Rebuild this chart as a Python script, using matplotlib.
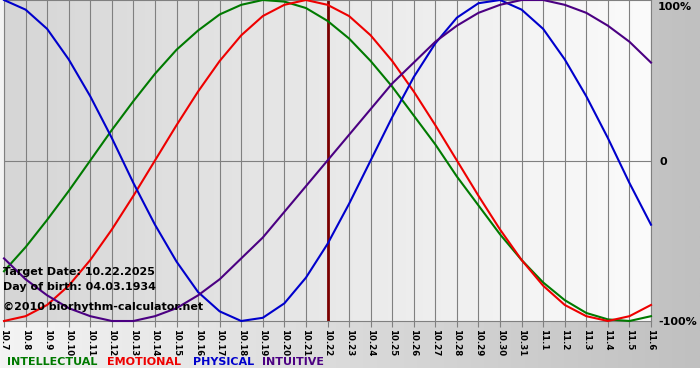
#!/usr/bin/env python3
"""Biorhythm chart, 10.7 - 11.6, target date 10.22.2025."""
import matplotlib

matplotlib.use("Agg")
import matplotlib.pyplot as plt
import numpy as np
from matplotlib.colors import LinearSegmentedColormap

W_PX, H_PX = 700, 380

DAY_LABELS = [
    "10.7", "10.8", "10.9", "10.10", "10.11", "10.12", "10.13", "10.14", "10.15",
    "10.16", "10.17", "10.18", "10.19", "10.20", "10.21", "10.22", "10.23", "10.24",
    "10.25", "10.26", "10.27", "10.28", "10.29", "10.30", "10.31", "11.1", "11.2",
    "11.3", "11.4", "11.5", "11.6",
]
TARGET_LABEL = "10.22"

# daily values (-1 .. 1)
INTELLECTUAL = [
    -0.69, -0.54, -0.37, -0.19, 0.00, 0.19, 0.37, 0.54, 0.69, 0.81, 0.91, 0.97, 1.00, 0.99, 0.95, 0.87,
    0.76, 0.62, 0.46, 0.28, 0.10, -0.10, -0.28, -0.46, -0.62, -0.76, -0.87, -0.95, -0.99, -1.00, -0.97,
]
EMOTIONAL = [
    -1.00, -0.97, -0.90, -0.78, -0.62, -0.43, -0.22, 0.00, 0.22, 0.43, 0.62, 0.78, 0.90, 0.97, 1.00, 0.97,
    0.90, 0.78, 0.62, 0.43, 0.22, 0.00, -0.22, -0.43, -0.62, -0.78, -0.90, -0.97, -1.00, -0.97, -0.90,
]
PHYSICAL = [
    1.00, 0.94, 0.82, 0.63, 0.40, 0.14, -0.14, -0.40, -0.63, -0.82, -0.94, -1.00, -0.98, -0.89, -0.73, -0.52,
    -0.27, 0.00, 0.27, 0.52, 0.73, 0.89, 0.98, 1.00, 0.94, 0.82, 0.63, 0.40, 0.14, -0.14, -0.40,
]
INTUITIVE = [
    -0.61, -0.74, -0.84, -0.92, -0.97, -1.00, -1.00, -0.97, -0.92, -0.84, -0.74, -0.61, -0.48, -0.32, -0.16, 0.00,
    0.16, 0.32, 0.48, 0.61, 0.74, 0.84, 0.92, 0.97, 1.00, 1.00, 0.97, 0.92, 0.84, 0.74, 0.61,
]

SERIES = [
    ("INTELLECTUAL", INTELLECTUAL, "#007a00"),
    ("EMOTIONAL", EMOTIONAL, "#ee0000"),
    ("PHYSICAL", PHYSICAL, "#0000cc"),
    ("INTUITIVE", INTUITIVE, "#4b0082"),
]
LEGEND_X_PX = [7, 107, 193, 262]

INFO_LINES = [
    ("Target Date: 10.22.2025", 272),
    ("Day of birth: 04.03.1934", 287),
    ("\u00a92010 biorhythm-calculator.net", 307),
]


def fx(px):
    return px / W_PX


def fy(py):
    return 1 - py / H_PX


fig = plt.figure(figsize=(W_PX / 100, H_PX / 100), dpi=100)
fig.patch.set_facecolor("white")

# page background: light on the left, grey on the right
bg = fig.add_axes([0, 1 - 368 / H_PX, 1, 368 / H_PX])
bg_cmap = LinearSegmentedColormap.from_list("bg", ["#f4f4f4", "#c0c0c0"])
bg.imshow(np.linspace(0, 1, 256)[None, :], aspect="auto", cmap=bg_cmap, extent=(0, 1, 0, 1))
bg.set_axis_off()

left_px, right_px, top_px, bottom_px = 4, 651, 0, 321
ax = fig.add_axes([fx(left_px), fy(bottom_px), fx(right_px - left_px), (bottom_px - top_px) / H_PX])
x = np.arange(len(DAY_LABELS))
ax.set_xlim(x[0], x[-1])
ax.set_ylim(-1.0, 1.0)

plot_cmap = LinearSegmentedColormap.from_list("plot", ["#d6d6d6", "#fbfbfb"])
ax.imshow(np.linspace(0, 1, 256)[None, :], aspect="auto", cmap=plot_cmap,
          extent=(x[0], x[-1], -1, 1), zorder=0)

for xi in x:
    ax.axvline(xi, color="#808080", lw=0.8, zorder=1)
ax.axhline(0, color="#808080", lw=0.8, zorder=1)
ax.axvline(DAY_LABELS.index(TARGET_LABEL), color="#7a0000", lw=2, zorder=2)

for name, values, color in SERIES:
    ax.plot(x, values, color=color, lw=1.5, zorder=3, clip_on=False, solid_joinstyle="round")

for spine in ax.spines.values():
    spine.set_color("#808080")
    spine.set_linewidth(0.8)

ax.set_yticks([])
ax.set_xticks(x)
ax.set_xticklabels(DAY_LABELS, rotation=270, fontsize=6.2, fontweight="bold", va="top", ha="center")
ax.tick_params(axis="x", direction="out", length=4, width=0.8, color="#808080", pad=1.5)

for text, py in INFO_LINES:
    fig.text(fx(3), fy(py), text, fontsize=8, fontweight="bold", color="black",
             ha="left", va="center", zorder=5)

fig.text(fx(658), fy(7), "100%", fontsize=8, fontweight="bold", ha="left", va="center")
fig.text(fx(660), fy(162), "0", fontsize=8, fontweight="bold", ha="left", va="center")
fig.text(fx(658), fy(322), "-100%", fontsize=8, fontweight="bold", ha="left", va="center")

for (name, values, color), lx in zip(SERIES, LEGEND_X_PX):
    fig.text(fx(lx), fy(362), name, fontsize=8, fontweight="bold", color=color, ha="left", va="center")

fig.savefig("out.png", dpi=100)
